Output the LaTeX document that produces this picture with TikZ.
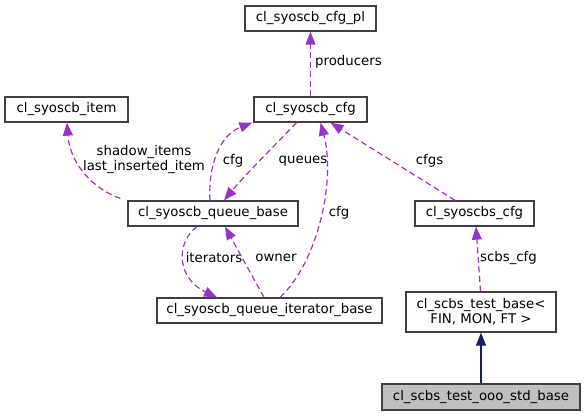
\documentclass[tikz,border=0pt]{standalone}
\usepackage{fontspec}
\setmainfont{DejaVu Sans}
\usetikzlibrary{arrows.meta}
\definecolor{edgepurple}{HTML}{9A32CD}
\definecolor{edgenavy}{HTML}{191970}
\definecolor{boxborder}{HTML}{404040}
\definecolor{selfill}{HTML}{BFBFBF}
\tikzset{
  box/.style={draw=boxborder, line width=1.3pt, fill=white, inner sep=0pt, minimum height=25pt, align=center, font=\fontsize{13.3}{15}\selectfont},
  dep/.style={draw=edgepurple, line width=1.2pt, dash pattern=on 6pt off 3.5pt, -{Triangle[length=13pt,width=10pt,fill=edgepurple]}},
  inh/.style={draw=edgenavy, line width=1.3pt, -{Triangle[length=13pt,width=10pt,fill=edgenavy]}},
  lbl/.style={inner sep=0pt, align=center, font=\fontsize{13.3}{15}\selectfont}
}
\begin{document}
\begin{tikzpicture}[x=1pt,y=-1pt]
\useasboundingbox (0,0) rectangle (585,416);
\node[box, minimum width=131pt] (cfgpl) at (310.5,18.5) {cl\_syoscb\_cfg\_pl};
\node[box, minimum width=123pt] (item) at (66.5,109.5) {cl\_syoscb\_item};
\node[box, minimum width=113pt] (cfg) at (310.5,109.5) {cl\_syoscb\_cfg};
\node[box, minimum width=170pt] (qb) at (213,213.5) {cl\_syoscb\_queue\_base};
\node[box, minimum width=119pt] (scfg) at (474.5,213.5) {cl\_syoscbs\_cfg};
\node[box, minimum width=225pt] (iter) at (269.5,310.5) {cl\_syoscb\_queue\_iterator\_base};
\node[box, minimum width=150pt, minimum height=40pt] (tb) at (481,312) {cl\_scbs\_test\_base<\\ FIN, MON, FT >};
\node[box, minimum width=198pt, minimum height=26pt, fill=selfill] (ooo) at (481,397) {cl\_scbs\_test\_ooo\_std\_base};

% edges
\draw[dep] (cfg.north) -- (cfgpl.south);
\node[lbl, anchor=west] (lprod) at (315,62) {producers};

\draw[dep] ([shift={(-7,-2)}]qb.north west) .. controls (95,190) and (70,165) .. ([xshift=0.5]item.south);
\node[lbl] (lshadow) at (144,160) {shadow\_items\\last\_inserted\_item};

\draw[dep] ([xshift=-3]qb.north) .. controls (208,165) and (220,135) .. ([xshift=-1]cfg.south west);
\node[lbl] (lcfg1) at (233,161) {cfg};

\draw[dep] ([xshift=-14]cfg.south) .. controls (280,140) and (245,175) .. ([xshift=11]qb.north);
\node[lbl] (lqueues) at (303,161) {queues};

\draw[dep] ([xshift=10.5]iter.north) .. controls (318,262) and (336,180) .. ([xshift=10]cfg.south);
\node[lbl] (lcfg2) at (339,213) {cfg};

\draw[dep] ([xshift=-19.5]scfg.north) -- ([xshift=20]cfg.south);
\node[lbl] (lcfgs) at (429.5,161) {cfgs};

\draw[dep] ([xshift=-16]qb.south) .. controls (176,242) and (176,278) .. ([xshift=-52.5]iter.north);
\node[lbl] (liter) at (214,258) {iterators};

\draw[dep] ([xshift=-5.5]iter.north) -- ([xshift=12]qb.south);
\node[lbl] (lowner) at (276,258) {owner};

\draw[dep] ([xshift=-0.5]tb.north) -- ([xshift=1.5]scfg.south);
\node[lbl] (lscbs) at (508.5,258) {scbs\_cfg};

\draw[inh] (ooo.north) -- (tb.south);
\end{tikzpicture}
\end{document}
